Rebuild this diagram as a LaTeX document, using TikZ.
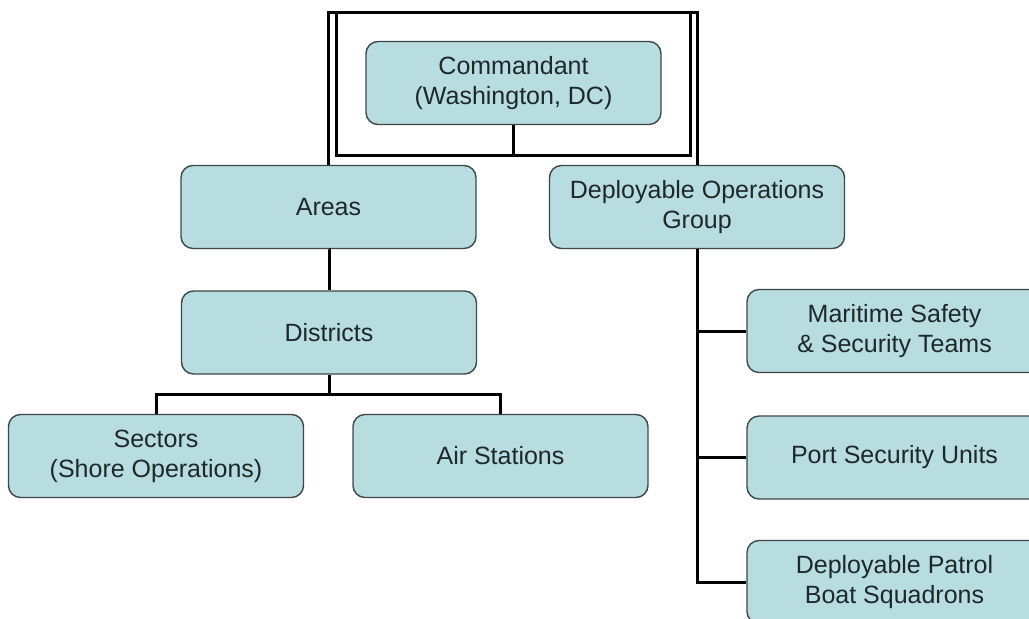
\documentclass[tikz,border=0pt]{standalone}
\usepackage{fontspec}
\setmainfont{Liberation Sans}
\definecolor{boxfill}{RGB}{184,221,224}
\definecolor{boxline}{RGB}{62,72,72}
\definecolor{boxtext}{RGB}{30,40,42}
\begin{document}
\begin{tikzpicture}[x=1pt,y=-1pt,
  unit/.style={draw=boxline, line width=1.4pt, fill=boxfill, rounded corners=12pt,
    minimum width=295pt, minimum height=83pt, inner sep=0pt, align=center,
    text=boxtext, font=\fontsize{25}{30}\selectfont},
  link/.style={draw=black, line width=3pt},
  frame/.style={draw=black, line width=3pt, line join=miter}]
\clip (0,0) rectangle (1029,619);
\fill[white] (0,0) rectangle (1029,619);

% units
\node[unit] (cmd) at (513.5,83) {Commandant\\(Washington, DC)};
\node[unit] (areas) at (328.5,207) {Areas};
\node[unit] (dog) at (697,207) {Deployable Operations\\Group};
\node[unit] (districts) at (329,332.5) {Districts};
\node[unit] (sectors) at (156,456) {Sectors\\(Shore Operations)};
\node[unit] (air) at (500.5,456) {Air Stations};
\node[unit] (mst) at (894.5,331) {Maritime Safety\\\& Security Teams};
\node[unit] (psu) at (894.5,457.5) {Port Security Units};
\node[unit] (dpbs) at (894.5,582) {Deployable Patrol\\Boat Squadrons};

% headquarters frame
\coordinate (topline) at (0,12);
\coordinate (framebot) at (0,155);
\draw[frame] (areas.north) |- (topline -| dog.north) -- (dog.north);
\draw[frame] (336,12) rectangle (690,155);
\draw[link] (cmd.south) -- (cmd.south |- framebot);

% field chain
\draw[link] (areas.south) -- (areas.south -| districts.north) -- (districts.north);
\coordinate (fieldbar) at (0,394);
\draw[link] (districts.south) -- (districts.south |- fieldbar);
\draw[link] (sectors.north) |- (fieldbar -| air.north) -- (air.north);

% deployable forces
\draw[link] (dog.south) |- (dpbs.west);
\draw[link] (dog.south |- mst.west) -- (mst.west);
\draw[link] (dog.south |- psu.west) -- (psu.west);
\end{tikzpicture}
\end{document}
